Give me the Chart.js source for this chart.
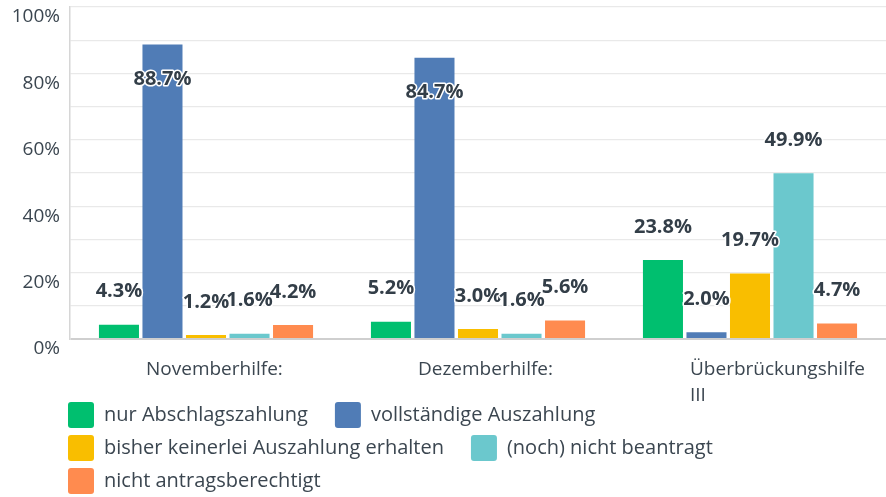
<!DOCTYPE html>
<html>
<head>
<meta charset="utf-8">
<script src="https://cdn.jsdelivr.net/npm/chart.js@4/dist/chart.umd.min.js"></script>
<style>
  html, body { margin: 0; padding: 0; background: #ffffff; }
  #wrap { width: 886px; height: 497px; position: relative; }
</style>
</head>
<body>
<div id="wrap"><canvas id="c"></canvas></div>
<script>
const categories = ['Novemberhilfe:', 'Dezemberhilfe:', ['Überbrückungshilfe', 'III']];
const seriesNames = [
  'nur Abschlagszahlung',
  'vollständige Auszahlung',
  'bisher keinerlei Auszahlung erhalten',
  '(noch) nicht beantragt',
  'nicht antragsberechtigt'
];
const nurAbschlag = [4.3, 5.2, 23.8];
const vollstaendig = [88.7, 84.7, 2.0];
const keinerlei = [1.2, 3.0, 19.7];
const nichtBeantragt = [1.6, 1.6, 49.9];
const nichtBerechtigt = [4.2, 5.6, 4.7];
const yTickLabels = ['0%', '20%', '40%', '60%', '80%', '100%'];

const colors = ['#00bf6f', '#507cb6', '#f9be00', '#6bc8cd', '#ff8b4f'];
const seriesValues = [nurAbschlag, vollstaendig, keinerlei, nichtBeantragt, nichtBerechtigt];
const FONT = "'Open Sans', 'Noto Sans', sans-serif";
const TEXT = '#3b4650';

const valueLabels = {
  id: 'valueLabels',
  afterDatasetsDraw(chart) {
    const ctx = chart.ctx;
    ctx.save();
    ctx.font = "bold 20px " + FONT;
    ctx.textAlign = 'center';
    ctx.textBaseline = 'middle';
    ctx.lineJoin = 'round';
    chart.data.datasets.forEach((ds, di) => {
      const meta = chart.getDatasetMeta(di);
      meta.data.forEach((bar, i) => {
        const v = ds.data[i];
        const txt = v.toFixed(1) + '%';
        const y = v > 75 ? bar.y + 35 : bar.y - 33;
        ctx.strokeStyle = '#ffffff';
        ctx.lineWidth = 3;
        ctx.strokeText(txt, bar.x, y);
        ctx.fillStyle = '#333e48';
        ctx.fillText(txt, bar.x, y);
      });
    });
    ctx.restore();
  }
};

const layoutTweak = {
  id: 'layoutTweak',
  afterLayout(chart) {
    const lg = chart.legend;
    if (lg) {
      lg.left = 61;
      lg.top += 7;
      lg.bottom += 7;
    }
    const xs = chart.scales.x;
    if (xs) { xs.bottom += 40; }
  }
};

new Chart(document.getElementById('c'), {
  type: 'bar',
  data: {
    labels: categories,
    datasets: seriesNames.map((name, k) => ({
      label: name,
      data: seriesValues[k],
      backgroundColor: colors[k],
      borderWidth: 0,
      categoryPercentage: 0.8,
      barPercentage: 0.92
    }))
  },
  options: {
    responsive: true,
    maintainAspectRatio: false,
    animation: false,
    layout: { padding: { top: 7, left: 0, right: 0, bottom: 0 } },
    plugins: {
      tooltip: { enabled: false },
      legend: {
        position: 'bottom',
        align: 'start',
        labels: {
          boxWidth: 26,
          boxHeight: 26,
          padding: 7,
          useBorderRadius: true,
          borderRadius: 3,
          color: TEXT,
          font: { family: FONT, size: 20 },
          generateLabels(chart) {
            const items = Chart.defaults.plugins.legend.labels.generateLabels(chart);
            items.forEach(it => { it.text = it.text + '\u2003'; });
            return items;
          }
        }
      }
    },
    scales: {
      x: {
        grid: { display: false, drawTicks: false },
        border: { display: false },
        ticks: {
          color: TEXT,
          font: { family: FONT, size: 19, lineHeight: 1.37 },
          padding: 18,
          align: 'start',
          labelOffset: -60,
          maxRotation: 0,
          autoSkip: false
        },
        afterFit(scale) {
          scale.height = 49;
          scale.paddingLeft = 0;
          scale.paddingRight = 0;
        }
      },
      y: {
        min: 0,
        max: 100,
        grid: {
          drawTicks: false,
          color: (c) => (c.tick && c.tick.value === 0) ? '#cfcfcf' : '#e9e9e9',
          lineWidth: (c) => (c.tick && c.tick.value === 0) ? 2 : 1.2
        },
        border: { display: true, color: '#d6d6d6', width: 1.5 },
        ticks: {
          stepSize: 10,
          padding: 10,
          labelOffset: 10,
          color: TEXT,
          font: { family: FONT, size: 19 },
          callback: (v) => (v % 20 === 0) ? yTickLabels[v / 20] : ''
        },
        afterFit(scale) {
          scale.width = 70;
          scale.paddingTop = 0;
          scale.paddingBottom = 0;
        }
      }
    }
  },
  plugins: [valueLabels, layoutTweak]
});
</script>
</body>
</html>
